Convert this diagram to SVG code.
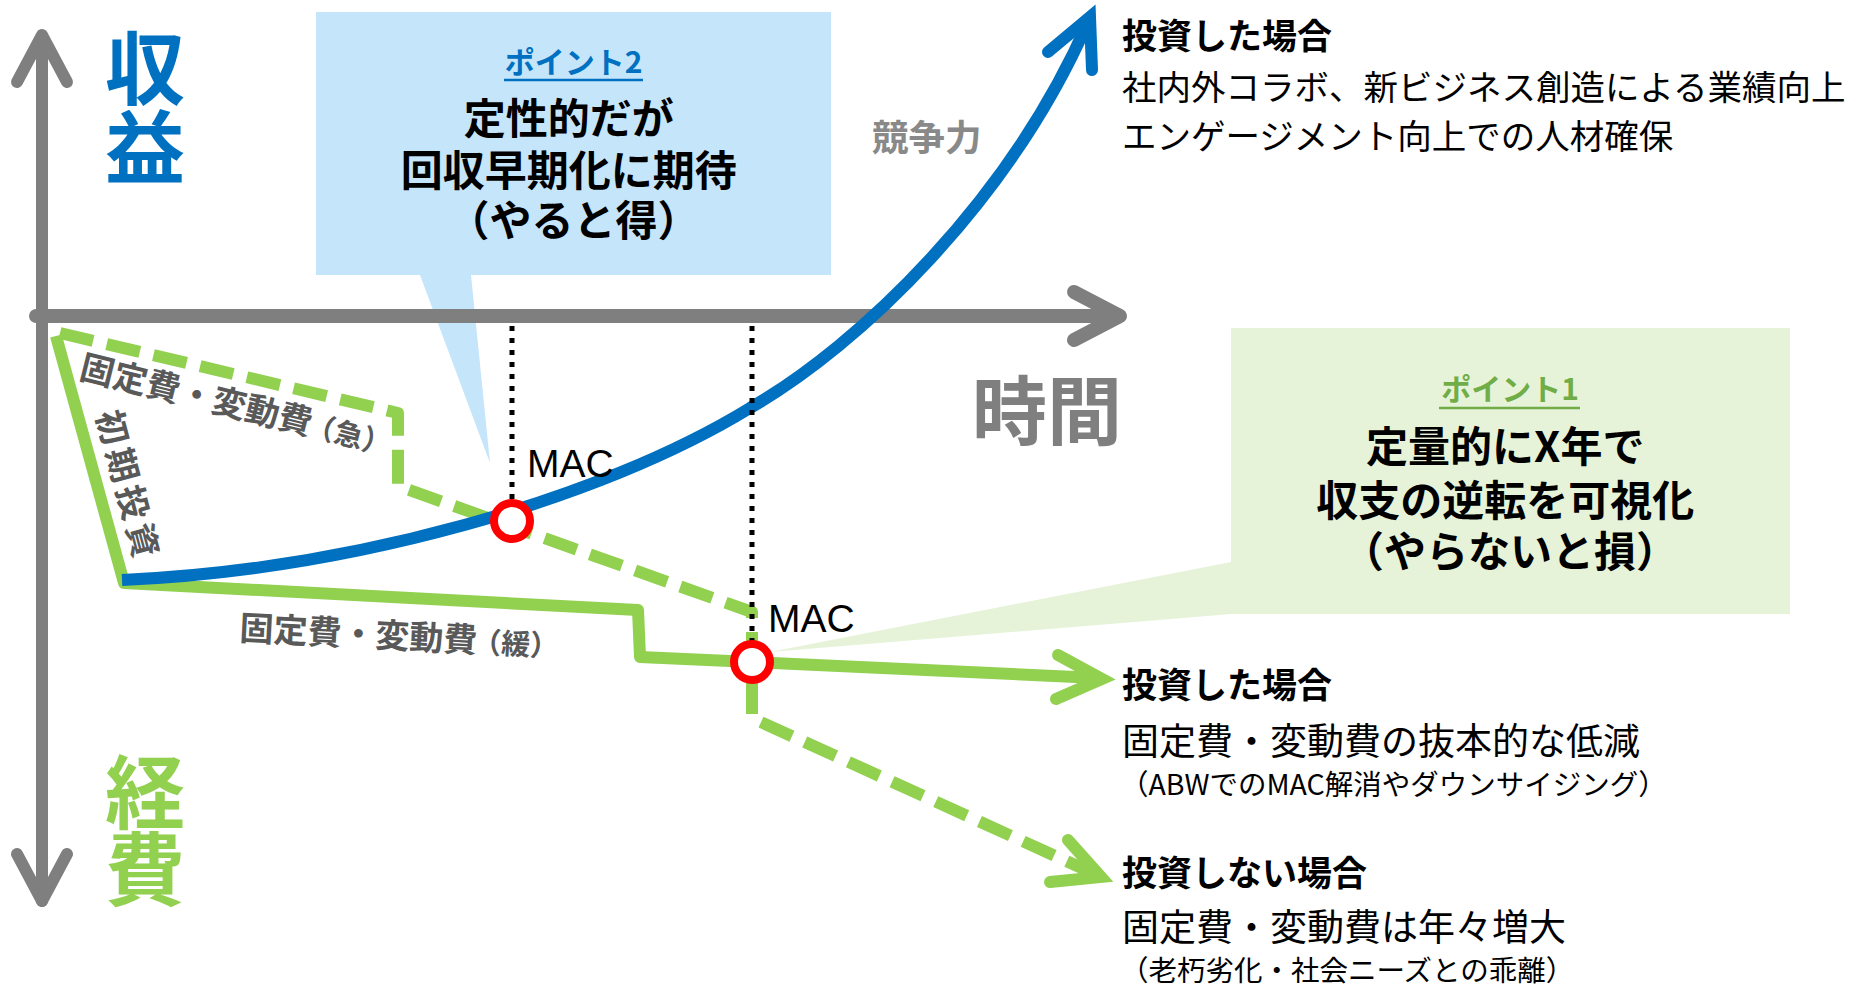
<svg xmlns="http://www.w3.org/2000/svg" width="1856" height="987" viewBox="0 0 1856 987">
<style>
.jp{font-family:"Noto Sans CJK JP","Noto Sans CJK SC",sans-serif}
.b{font-weight:700}
.axis{stroke:#7F7F7F;fill:none;stroke-linecap:round;stroke-linejoin:round}
.g{stroke:#92D050;stroke-width:12;fill:none;stroke-linejoin:round}
.gd{stroke-dasharray:34 14}
.gh{stroke:#92D050;stroke-width:12;fill:none;stroke-linecap:round;stroke-linejoin:miter}
.blue{stroke:#0070C0;stroke-width:12;fill:none}
.bh{stroke:#0070C0;stroke-width:12;fill:none;stroke-linecap:round;stroke-linejoin:miter}
.dot{stroke:#000;stroke-width:5;stroke-dasharray:5 7;fill:none}
.mac{fill:#fff;stroke:#FF0000;stroke-width:8}
.lbl{fill:#595959;font-weight:700}
.mact{font-family:"Liberation Sans",Arial,sans-serif;font-size:39px;fill:#000}
</style>
<rect width="1856" height="987" fill="#fff"/>

<g id="callout-point2">
  <path d="M316,12 H831 V275 H471 L490,463 L420,275 H316 Z" fill="#C5E5FB"/>
  <text class="jp b" x="573.5" y="73" font-size="30" fill="#0070C0" text-anchor="middle">ポイント2</text>
  <line x1="504" y1="80" x2="643" y2="80" stroke="#0070C0" stroke-width="2.5"/>
  <text class="jp b" font-size="42" fill="#000" text-anchor="middle">
    <tspan x="573.5" y="134">定性的だが</tspan>
    <tspan x="573.5" y="186">回収早期化に期待</tspan>
    <tspan x="573.5" y="236">（やると得）</tspan>
  </text>
</g>

<g id="callout-point1">
  <path d="M1231,328 H1790 V614 H1231 L770,652 L1231,562 Z" fill="#E6F3D9"/>
  <text class="jp b" x="1510" y="400" font-size="30" fill="#70AD47" text-anchor="middle">ポイント1</text>
  <line x1="1439" y1="408" x2="1580" y2="408" stroke="#70AD47" stroke-width="2.5"/>
  <text class="jp b" font-size="42" fill="#000" text-anchor="middle">
    <tspan x="1510" y="462">定量的にX年で</tspan>
    <tspan x="1510" y="516">収支の逆転を可視化</tspan>
    <tspan x="1510" y="567">（やらないと損）</tspan>
  </text>
</g>

<g id="axes">
  <line class="axis" x1="42" y1="36" x2="42" y2="901" stroke-width="12" stroke-linecap="butt"/>
  <polyline class="axis" points="17,82 42,35 67,82" stroke-width="12"/>
  <polyline class="axis" points="17,854 42,901 67,854" stroke-width="12"/>
  <line class="axis" x1="36" y1="316" x2="1118" y2="316" stroke-width="14" stroke-linecap="butt"/>
  <polyline class="axis" points="1074,292 1120,316 1074,340" stroke-width="14"/>
</g>

<g id="connectors">
  <path class="g gd" d="M60,333 L398,413 L398,486 L752,612 L752,718 L1097,875"/>
  <polyline class="gh" points="1068,840 1101,877 1050,882"/>
  <path class="g" d="M56,336 L124,583 L638,610 L640,657 L752,662 L1097,678"/>
  <polyline class="gh" points="1058,655 1102,679 1056,699"/>
  <path class="blue" d="M122,580 C350,570 600,500 750,408 C860,345 1010,200 1088,22"/>
  <polyline class="bh" points="1048,52 1090,17 1092,70"/>
  <line class="dot" x1="512" y1="326" x2="512" y2="500"/>
  <line class="dot" x1="752" y1="326" x2="752" y2="642"/>
</g>

<g id="mac1">
  <circle class="mac" cx="512" cy="521" r="18"/>
  <text class="mact" x="527" y="477">MAC</text>
</g>
<g id="mac2">
  <circle class="mac" cx="752" cy="662" r="18"/>
  <text class="mact" x="768" y="632">MAC</text>
</g>

<g id="axis-labels">
  <text class="jp b" font-size="80" fill="#0070C0" text-anchor="middle"><tspan x="145" y="98">収</tspan><tspan x="145" y="177">益</tspan></text>
  <text class="jp b" font-size="80" fill="#92D050" text-anchor="middle"><tspan x="145" y="822">経</tspan><tspan x="145" y="899">費</tspan></text>
  <text class="jp b" x="972" y="439" font-size="75" fill="#7F7F7F">時間</text>
  <text class="jp b" x="872" y="151" font-size="36.5" fill="#898989">競争力</text>
</g>

<g id="line-labels">
  <text class="jp lbl" font-size="34" transform="translate(78,378) rotate(14)">固定費・変動費<tspan font-size="29" dx="-5">（急）</tspan></text>
  <text class="jp lbl" font-size="34" letter-spacing="5" transform="translate(96,414) rotate(75)">初期投資</text>
  <text class="jp lbl" font-size="34" transform="translate(239,640) rotate(3)">固定費・変動費<tspan font-size="29" dx="-5">（緩）</tspan></text>
</g>

<g id="result-invest-top">
  <text class="jp b" x="1122" y="49" font-size="35" fill="#000">投資した場合</text>
  <text class="jp" x="1122" y="100" font-size="34.5" fill="#000">社内外コラボ、新ビジネス創造による業績向上</text>
  <text class="jp" x="1122" y="149" font-size="34.5" fill="#000">エンゲージメント向上での人材確保</text>
</g>

<g id="result-invest-bottom">
  <text class="jp b" x="1122" y="698" font-size="35" fill="#000">投資した場合</text>
  <text class="jp" x="1122" y="755" font-size="37" fill="#000">固定費・変動費の抜本的な低減</text>
  <text class="jp" x="1120" y="795" font-size="28.5" fill="#000">（ABWでのMAC解消やダウンサイジング）</text>
</g>

<g id="result-noinvest">
  <text class="jp b" x="1122" y="886" font-size="35" fill="#000">投資しない場合</text>
  <text class="jp" x="1122" y="941" font-size="37" fill="#000">固定費・変動費は年々増大</text>
  <text class="jp" x="1120" y="981" font-size="28.5" fill="#000">（老朽劣化・社会ニーズとの乖離）</text>
</g>
</svg>
